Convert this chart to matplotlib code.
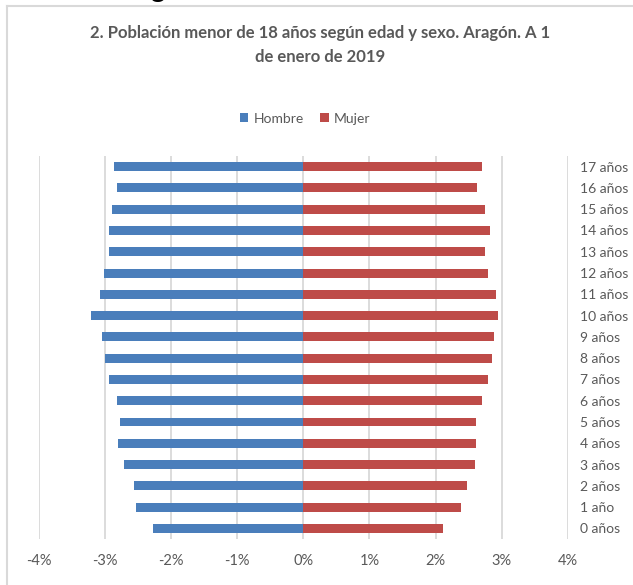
import matplotlib
matplotlib.use("Agg")
import matplotlib.pyplot as plt
from matplotlib.lines import Line2D

plt.rcParams['font.family'] = ['Lato', 'DejaVu Sans']

edades = ["0 años", "1 año", "2 años", "3 años", "4 años", "5 años", "6 años",
          "7 años", "8 años", "9 años", "10 años", "11 años", "12 años",
          "13 años", "14 años", "15 años", "16 años", "17 años"]
# porcentaje sobre el total de menores de 18 años
hombre = [2.27, 2.53, 2.56, 2.71, 2.81, 2.78, 2.82, 2.94, 3.00, 3.04,
          3.21, 3.08, 3.02, 2.94, 2.94, 2.90, 2.82, 2.86]
mujer = [2.11, 2.38, 2.48, 2.60, 2.62, 2.62, 2.71, 2.79, 2.85, 2.88,
         2.94, 2.92, 2.79, 2.75, 2.82, 2.75, 2.63, 2.71]
ticks_x = [-4, -3, -2, -1, 0, 1, 2, 3, 4]

azul = "#4a7ebb"
rojo = "#be4b48"
gris = "#595959"

fig = plt.figure(figsize=(6.33, 5.85), dpi=100)
ax = fig.add_axes([0.0616, 0.0786, 0.8352, 0.6547])

y = range(len(edades))
ax.barh(y, [-v for v in hombre], height=0.42, color=azul, label="Hombre")
ax.barh(y, mujer, height=0.42, color=rojo, label="Mujer")

ax.set_xlim(-4, 4)
ax.set_ylim(-0.5, 17.5)
ax.set_xticks(ticks_x)
ax.set_xticklabels([f"{t}%" for t in ticks_x])
ax.set_yticks(list(y))
ax.set_yticklabels(edades)
ax.yaxis.tick_right()
ax.tick_params(axis='y', length=0, pad=9, labelsize=10, labelcolor=gris)
ax.tick_params(axis='x', length=0, pad=11, labelsize=10.5, labelcolor=gris)
ax.grid(axis='x', color="#d9d9d9", linewidth=1.3)
ax.set_axisbelow(True)
for s in ax.spines.values():
    s.set_visible(False)

fig.text(0.505, 0.944, "2. Población menor de 18 años según edad y sexo. Aragón. A 1",
         ha='center', va='center', fontsize=12, fontweight='bold', color=gris)
fig.text(0.505, 0.902, "de enero de 2019",
         ha='center', va='center', fontsize=12, fontweight='bold', color=gris)

ax.legend(loc='center', bbox_to_anchor=(0.482, 0.797), bbox_transform=fig.transFigure,
          ncol=2, frameon=False, fontsize=10, labelcolor=gris,
          handlelength=0.6, handleheight=0.6, handletextpad=0.4, columnspacing=1.2)

# marco del gráfico
W, H = 633, 585
fig.add_artist(Line2D([7 / W, 1], [1 - 6 / H, 1 - 6 / H], color="#d9d9d9", lw=1.5))
fig.add_artist(Line2D([7 / W, 7 / W], [0, 1 - 6 / H], color="#d9d9d9", lw=1.5))

# resto del encabezado de la página, cortado arriba
fig.text(150 / W, 1 + 3.5 / H, "g", fontsize=20, fontweight='bold', color="black",
         va='baseline', ha='left')

fig.savefig("out.png", dpi=100)
